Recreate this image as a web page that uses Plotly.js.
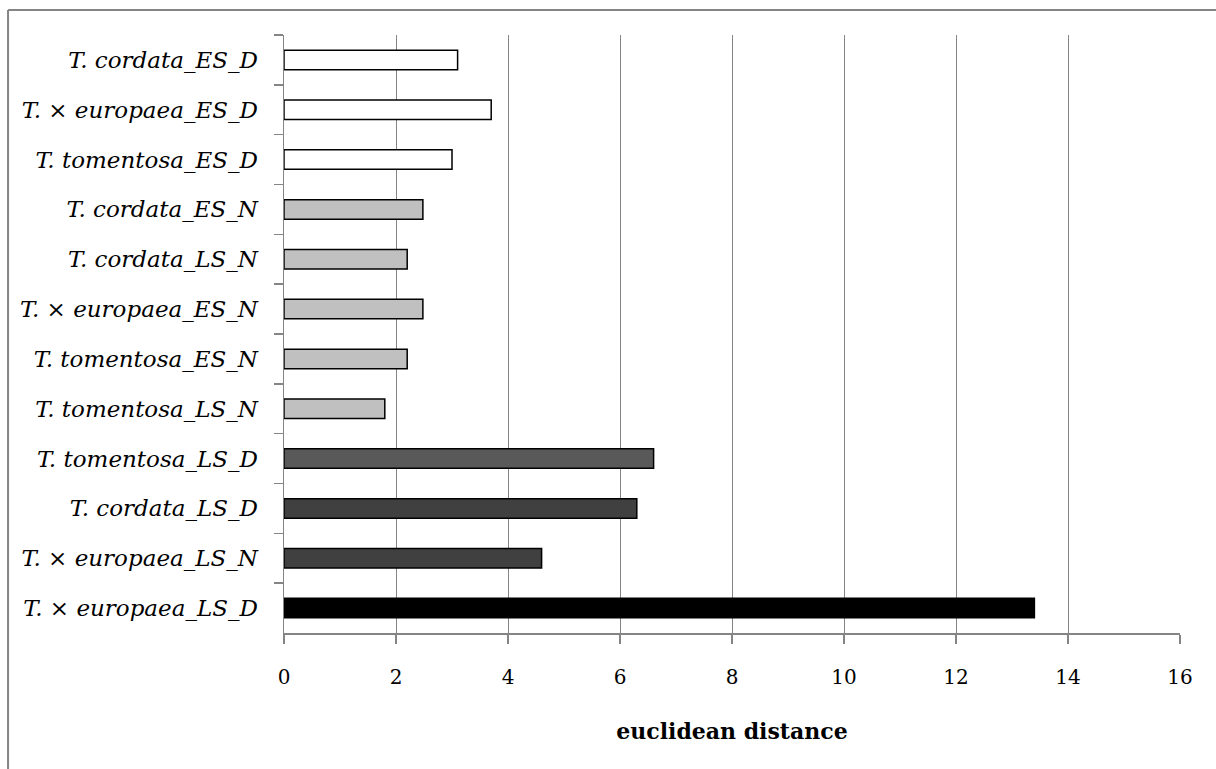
<!DOCTYPE html>
<html>
<head>
<meta charset="utf-8">
<script src="https://cdn.plot.ly/plotly-3.0.1.min.js"></script>
<style>
html,body{margin:0;padding:0;background:#fff;}
#chart{width:1216px;height:769px;}
</style>
</head>
<body>
<div id="chart"></div>
<script>
// Categories listed top to bottom
const categories = [
  "T. cordata_ES_D",
  "T. × europaea_ES_D",
  "T. tomentosa_ES_D",
  "T. cordata_ES_N",
  "T. cordata_LS_N",
  "T. × europaea_ES_N",
  "T. tomentosa_ES_N",
  "T. tomentosa_LS_N",
  "T. tomentosa_LS_D",
  "T. cordata_LS_D",
  "T. × europaea_LS_N",
  "T. × europaea_LS_D"
];
const distances = [3.1, 3.7, 3.0, 2.48, 2.2, 2.48, 2.2, 1.8, 6.6, 6.3, 4.6, 13.4];
const barColors = [
  "#ffffff", "#ffffff", "#ffffff",
  "#c0c0c0", "#c0c0c0", "#c0c0c0", "#c0c0c0", "#c0c0c0",
  "#595959", "#404040", "#404040",
  "#000000"
];
const xTickValues = [0, 2, 4, 6, 8, 10, 12, 14, 16];

const trace = {
  type: "bar",
  orientation: "h",
  y: categories,
  x: distances,
  width: 0.39,
  marker: {color: barColors, line: {color: "#000000", width: 1.5}},
  hoverinfo: "x+y"
};

const serif = "DejaVu Serif, Liberation Serif, serif";
const layout = {
  width: 1216,
  height: 769,
  margin: {l: 284, r: 36, t: 35, b: 136},
  paper_bgcolor: "#ffffff",
  plot_bgcolor: "#ffffff",
  showlegend: false,
  bargap: 0.6,
  xaxis: {
    range: [0, 16],
    tickvals: xTickValues,
    ticktext: xTickValues.map(String),
    showgrid: true,
    gridcolor: "#858585",
    gridwidth: 1,
    zeroline: false,
    showline: true,
    linecolor: "#858585",
    linewidth: 1.5,
    ticks: "outside",
    ticklen: 9,
    tickcolor: "#858585",
    tickwidth: 1.5,
    ticklabelstandoff: 16,
    tickfont: {family: serif, size: 20, color: "#000"},
    title: {text: "<b>euclidean distance</b>", font: {family: serif, size: 22, color: "#000"}, standoff: 36}
  },
  yaxis: {
    type: "category",
    categoryorder: "array",
    categoryarray: categories,
    range: [11.5, -0.5],
    showgrid: false,
    zeroline: false,
    showline: true,
    linecolor: "#858585",
    linewidth: 1.5,
    ticks: "outside",
    tickson: "boundaries",
    ticklen: 9,
    tickcolor: "#858585",
    tickwidth: 1.5,
    ticklabelstandoff: 20,
    tickfont: {family: serif, size: 23, color: "#000", style: "italic"}
  },
  shapes: [
    {type: "line", xref: "paper", yref: "paper", x0: -0.308, x1: 1.05, y0: 1.0418, y1: 1.0418, line: {color: "#858585", width: 2}},
    {type: "line", xref: "paper", yref: "paper", x0: -0.308, x1: -0.308, y0: 1.0418, y1: -0.3, line: {color: "#858585", width: 2}}
  ]
};

Plotly.newPlot("chart", [trace], layout, {displayModeBar: false, staticPlot: true});
</script>
</body>
</html>
